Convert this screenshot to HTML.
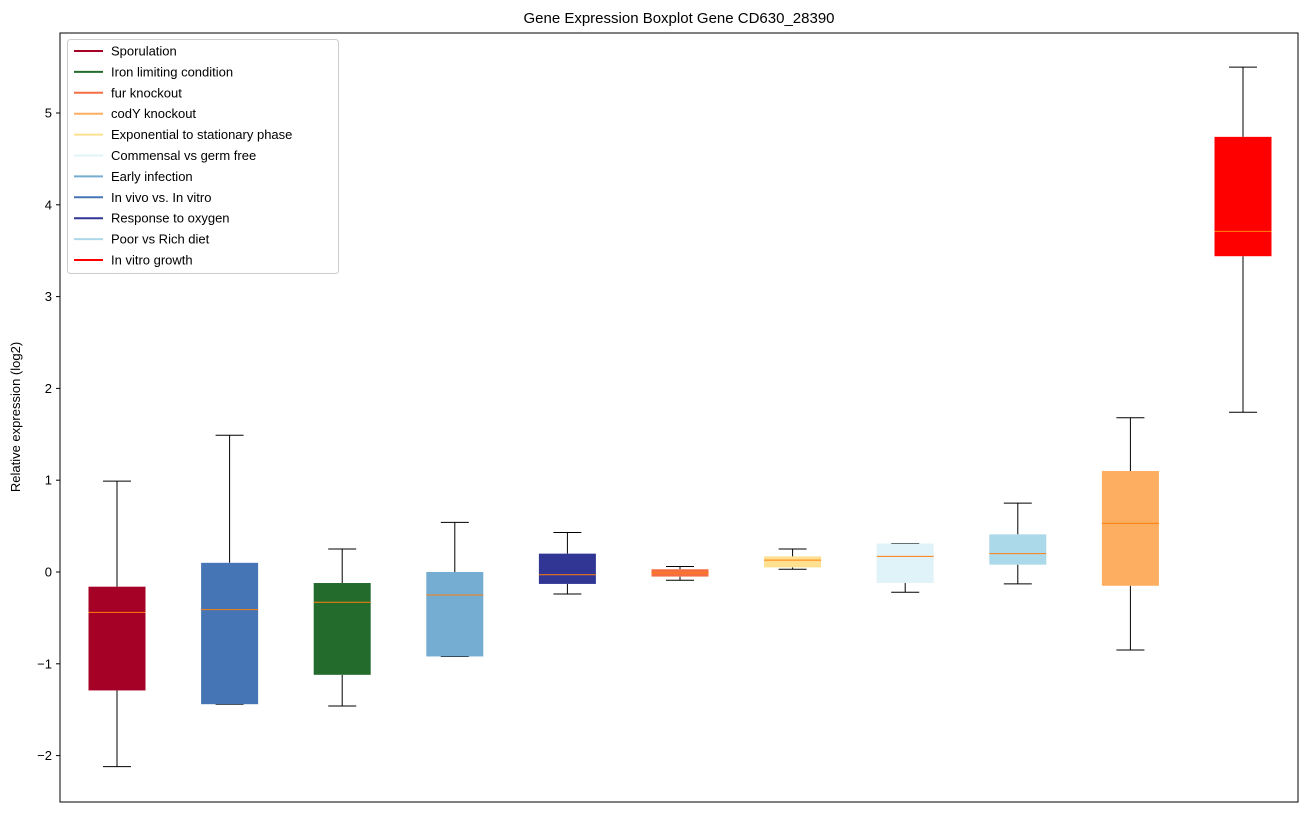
<!DOCTYPE html>
<html><head><meta charset="utf-8"><style>
body{margin:0;background:#fff;font-family:"Liberation Sans","DejaVu Sans",sans-serif;}
svg text{font-family:"Liberation Sans","DejaVu Sans",sans-serif;}
</style></head><body>
<svg id="chart" width="1309" height="812" xmlns="http://www.w3.org/2000/svg">
<text x="679" y="23" font-size="15" text-anchor="middle">Gene Expression Boxplot Gene CD630_28390</text>
<text transform="translate(20,417) rotate(-90)" font-size="13" text-anchor="middle">Relative expression (log2)</text>
<g id="boxes"></g>
<g id="yticks"></g>
<rect x="60" y="33" width="1238" height="769" fill="none" stroke="#000" stroke-width="1"/>
<g id="legend"></g>
</svg>
<script>
const categories=["Sporulation","In vivo vs. In vitro","Iron limiting condition","Early infection","Response to oxygen","fur knockout","Exponential to stationary phase","Commensal vs germ free","Poor vs Rich diet","codY knockout","In vitro growth"];
const colors=["#a50026","#4575b4","#226b2d","#74add1","#313695","#f46d43","#fee090","#e0f3f8","#abd9e9","#fdae61","#ff0000"];
const whiskerHigh=[0.99,1.49,0.25,0.54,0.43,0.06,0.25,0.31,0.75,1.68,5.5];
const q3=[-0.16,0.10,-0.12,0.0,0.20,0.03,0.17,0.31,0.41,1.10,4.74];
const medians=[-0.44,-0.41,-0.33,-0.25,-0.03,-0.01,0.13,0.17,0.20,0.53,3.71];
const q1=[-1.29,-1.44,-1.12,-0.92,-0.13,-0.05,0.05,-0.12,0.08,-0.15,3.44];
const whiskerLow=[-2.12,-1.44,-1.46,-0.92,-0.24,-0.09,0.03,-0.22,-0.13,-0.85,1.74];
const yTicks=[-2,-1,0,1,2,3,4,5];
const yTickLabels=["−2","−1","0","1","2","3","4","5"];
const legendOrder=["Sporulation","Iron limiting condition","fur knockout","codY knockout","Exponential to stationary phase","Commensal vs germ free","Early infection","In vivo vs. In vitro","Response to oxygen","Poor vs Rich diet","In vitro growth"];
const NS="http://www.w3.org/2000/svg";
function y(v){return 572-91.8*v;}
function x(i){return 117+i*112.6;}
function mk(tag,attrs,parent){const e=document.createElementNS(NS,tag);for(const k in attrs)e.setAttribute(k,attrs[k]);parent.appendChild(e);return e;}
const bx=document.getElementById('boxes');
categories.forEach((c,i)=>{
  const g=mk('g',{},bx);
  
  
  const cx=x(i),hw=28.5;
  mk('line',{x1:cx,x2:cx,y1:y(whiskerHigh[i]),y2:y(q3[i]),stroke:'#000'},g);
  mk('line',{x1:cx,x2:cx,y1:y(q1[i]),y2:y(whiskerLow[i]),stroke:'#000'},g);
  mk('line',{x1:cx-14,x2:cx+14,y1:y(whiskerHigh[i]),y2:y(whiskerHigh[i]),stroke:'#000'},g);
  mk('line',{x1:cx-14,x2:cx+14,y1:y(whiskerLow[i]),y2:y(whiskerLow[i]),stroke:'#000'},g);
  mk('rect',{x:cx-hw,y:y(q3[i]),width:2*hw,height:Math.max(1,y(q1[i])-y(q3[i])),fill:colors[i]},g);
  mk('line',{x1:cx-hw,x2:cx+hw,y1:y(medians[i]),y2:y(medians[i]),stroke:'#ff7f0e'},g);
});
const yt=document.getElementById('yticks');
yTicks.forEach((t,i)=>{
  const l=mk('line',{x1:56,x2:60,y1:y(t),y2:y(t),stroke:'#000'},yt);
  
  
  const tx=mk('text',{x:52,y:y(t)+4.5,'font-size':13,'text-anchor':'end'},yt);
  tx.textContent=yTickLabels[i];
  
  
});
const lg=document.getElementById('legend');


mk('rect',{x:67.5,y:39.5,width:271,height:234,rx:3,fill:'#fff','fill-opacity':0.8,stroke:'#ccc'},lg);
legendOrder.forEach((n,j)=>{
  const i=categories.indexOf(n);
  const g=mk('g',{},lg);
  
  
  const yy=51+j*20.9;
  mk('line',{x1:74,x2:103,y1:yy,y2:yy,stroke:colors[i],'stroke-width':2},g);
  const t=mk('text',{x:111,y:yy+4.5,'font-size':13},g);
  t.textContent=n;
});
</script>
</body></html>
